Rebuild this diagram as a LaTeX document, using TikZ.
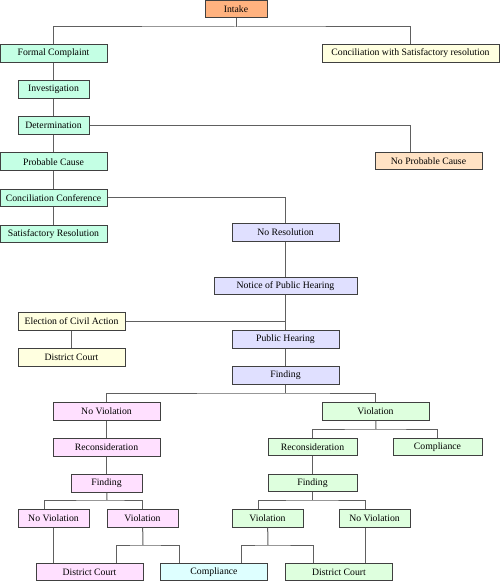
\documentclass[tikz,border=0pt]{standalone}
\usepackage{fontspec}
\setmainfont{Liberation Serif}
\usepackage{tikz}
\usetikzlibrary{positioning}

\definecolor{intakeor}{RGB}{255,178,127}
\definecolor{mint}{RGB}{196,255,228}
\definecolor{cream}{RGB}{255,255,224}
\definecolor{peach}{RGB}{255,226,196}
\definecolor{lavender}{RGB}{224,224,255}
\definecolor{pinkbox}{RGB}{255,224,255}
\definecolor{greenbox}{RGB}{222,255,222}
\definecolor{cyanbox}{RGB}{222,255,255}
\definecolor{boxline}{RGB}{64,64,64}
\definecolor{linkgray}{RGB}{96,96,96}

\begin{document}
\begin{tikzpicture}[x=0.75pt,y=-0.75pt,node distance=13.2pt,
  box/.style={draw=boxline,line width=0.75pt,fill=#1,minimum height=13.1pt,
    inner sep=0pt,font=\fontsize{7.3}{8.5}\selectfont,text=black},
  bw/.style={minimum width=#1*0.75pt},
  link/.style={draw=linkgray,line width=0.75pt}]

  \useasboundingbox (0,0) rectangle (500,581);

  \node[box=intakeor,bw=62] (intake) at (236,9) {Intake};
  \node[box=mint,bw=107] (fc) at (53.5,53.5) {Formal Complaint};
  \node[box=cream,bw=177] (csr) at (410.5,53.5) {Conciliation with Satisfactory resolution};
  \node[box=mint,bw=71] (inv) [below=of fc] {Investigation};
  \node[box=mint,bw=71] (det) [below=of inv] {Determination};
  \node[box=mint,bw=107] (pc) [below=of det] {Probable Cause};
  \node[box=peach,bw=107] (npc) at (428.5,161) {No Probable Cause};
  \node[box=mint,bw=107] (cc) [below=of pc] {Conciliation Conference};
  \node[box=mint,bw=107] (sr) [below=of cc] {Satisfactory Resolution};
  \node[box=lavender,bw=107] (nores) at (285.5,232.5) {No Resolution};
  \node[box=lavender,bw=143] (notice) at (285.5,286) {Notice of Public Hearing};
  \node[box=cream,bw=107] (eca) at (71.5,321.5) {Election of Civil Action};
  \node[box=cream,bw=107] (dc1) [below=of eca] {District Court};
  \node[box=lavender,bw=107] (ph) at (285.5,339.5) {Public Hearing};
  \node[box=lavender,bw=107] (fnd) [below=of ph] {Finding};

  \node[box=pinkbox,bw=107] (nv1) at (106.5,411.5) {No Violation};
  \node[box=pinkbox,bw=107] (rc1) [below=of nv1] {Reconsideration};
  \node[box=pinkbox,bw=71] (fd1) [below=of rc1] {Finding};
  \node[box=pinkbox,bw=71] (nv2) at (53.5,518.5) {No Violation};
  \node[box=pinkbox,bw=71] (v2) at (142.5,518.5) {Violation};

  \node[box=greenbox,bw=107] (v1) at (375.5,411.5) {Violation};
  \node[box=greenbox,bw=89] (rc2) at (312.5,447) {Reconsideration};
  \node[box=greenbox,bw=89] (comp1) at (437.5,447) {Compliance};
  \node[box=greenbox,bw=89] (fd2) [below=of rc2] {Finding};
  \node[box=greenbox,bw=71] (v3) at (267.5,518.5) {Violation};
  \node[box=greenbox,bw=71] (nv3) at (374.5,518.5) {No Violation};

  \node[box=pinkbox,bw=107] (dc2) at (89.5,572) {District Court};
  \node[box=cyanbox,bw=107] (comp2) at (214,572) {Compliance};
  \node[box=greenbox,bw=107] (dc3) at (339,572) {District Court};

  \coordinate (top) at (236,27);
  \coordinate (fsplit) at (285.5,393);
  \coordinate (s1) at (107,500);
  \coordinate (s2) at (376,429);
  \coordinate (s3) at (312.5,500);
  \coordinate (s4) at (143,545);
  \coordinate (s5) at (268,545);

  \draw[link] (intake) -- (top);
  \draw[link] (fc) |- (top) -| (csr);
  \draw[link] (fc) -- (inv);
  \draw[link] (inv) -- (det);
  \draw[link] (det) -- (pc);
  \draw[link] (det) -| (npc.north -| csr.south);
  \draw[link] (pc) -- (cc);
  \draw[link] (cc) -- (sr);
  \draw[link] (cc) -| (nores);
  \draw[link] (nores) -- (notice);
  \draw[link] (notice) -- (ph);
  \draw[link] (eca) -- (eca -| notice);
  \draw[link] (eca) -- (dc1);
  \draw[link] (ph) -- (fnd);
  \draw[link] (fnd) -- (fsplit);
  \draw[link] (nv1) |- (fsplit) -| (v1);

  \draw[link] (nv1) -- (rc1);
  \draw[link] (rc1) -- (fd1);
  \draw[link] (fd1) -- (s1);
  \draw[link] ([xshift=-6.75pt]nv2.north) |- (s1) -| (v2);
  \draw[link] (nv2) -- (nv2 |- dc2.north);
  \draw[link] (v2) -- (s4);
  \draw[link] ([xshift=19.9pt]dc2.north) |- (s4) -| ([xshift=-26.25pt]comp2.north);

  \draw[link] (v1) -- (s2);
  \draw[link] (rc2) |- (s2) -| (comp1);
  \draw[link] (rc2) -- (fd2);
  \draw[link] (fd2) -- (s3);
  \draw[link] ([xshift=-6.6pt]v3.north) |- (s3) -| ([xshift=-6.6pt]nv3.north);
  \draw[link] (v3) -- (s5);
  \draw[link] ([xshift=20.25pt]comp2.north) |- (s5) -| ([xshift=-19.5pt]dc3.north);
  \draw[link] ([xshift=-6.6pt]nv3.south) -- ([xshift=-6.6pt]nv3.south |- dc3.north);

\end{tikzpicture}
\end{document}
